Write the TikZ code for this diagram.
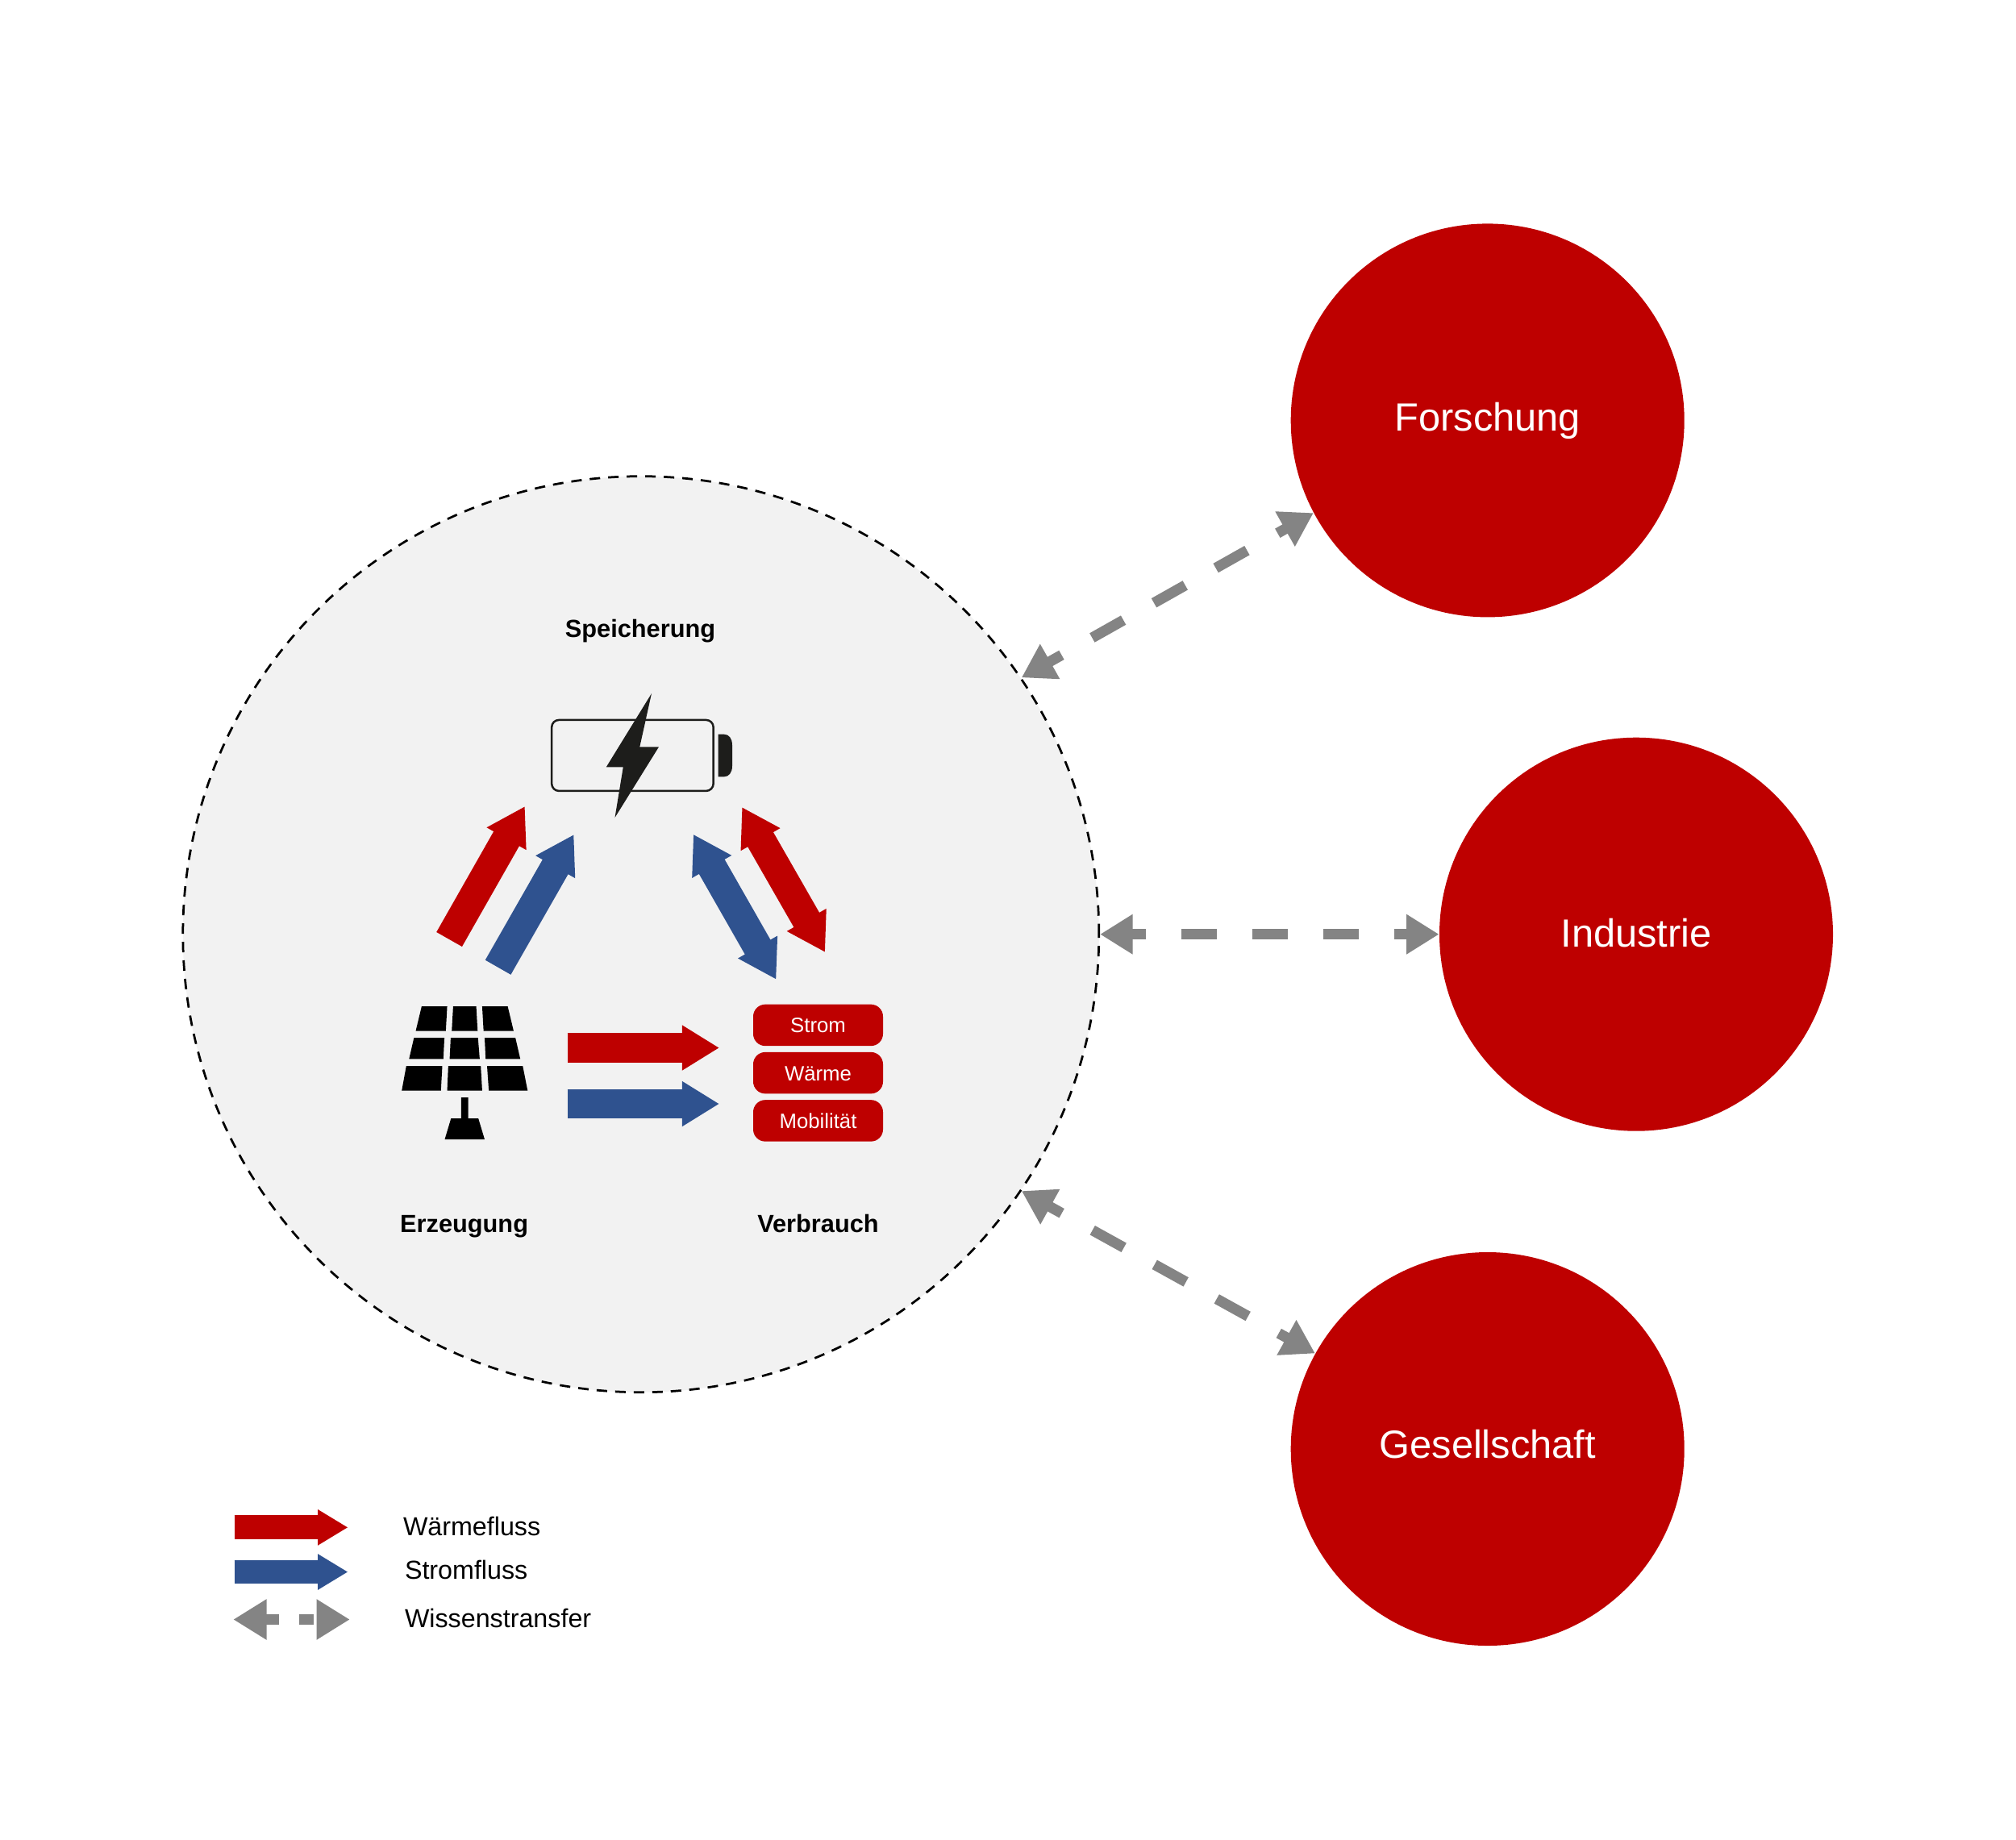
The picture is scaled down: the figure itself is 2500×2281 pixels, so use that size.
\documentclass[tikz,border=0pt]{standalone}
\usepackage{fontspec}
\setmainfont{Liberation Sans}
\usetikzlibrary{arrows.meta}
\definecolor{cred}{HTML}{BE0000}
\definecolor{cblue}{HTML}{2F528F}
\definecolor{cgray}{HTML}{848484}
\definecolor{cpale}{HTML}{F2F2F2}
\definecolor{cink}{HTML}{1D1D1B}
\tikzset{
  flowhead/.tip={Triangle[length=18.5pt,width=21.2pt]},
  flow/.style={line width=14.6pt,draw=#1,-{flowhead}},
  flowboth/.style={line width=14.6pt,draw=#1,{flowhead}-{flowhead}},
  legendflow/.style={line width=11.9pt,draw=#1,-{Triangle[length=15pt,width=16.8pt]}},
  know/.style={cgray,line width=5.2pt,{Triangle[length=16.2pt,width=18.8pt]}-{Triangle[length=16.2pt,width=18.8pt]},dash pattern=on 17.8pt off 17.4pt,dash phase=10.2pt},
  knowlegend/.style={cgray,line width=5.1pt,{Triangle[length=16.5pt,width=19pt]}-{Triangle[length=16.5pt,width=19pt]},dash pattern=on 7.2pt off 10.2pt on 7.2pt off 100pt},
  partner/.style={circle,fill=cred,text=white,minimum size=195.2pt,inner sep=0pt,font=\fontsize{19.5pt}{23pt}\selectfont,text depth=0pt},
  usebox/.style={rounded corners=6pt,fill=cred,text=white,minimum width=64.4pt,minimum height=20.6pt,inner sep=0pt,font=\fontsize{10.3pt}{12pt}\selectfont,text height=7.6pt,text depth=0pt},
  heading/.style={anchor=base,font=\bfseries\fontsize{12.3pt}{14pt}\selectfont,inner sep=0pt},
  legendtext/.style={anchor=base west,font=\fontsize{12.9pt}{15pt}\selectfont,inner sep=0pt},
  panel/.style={fill=black,draw=none}
}
\begin{document}
\begin{tikzpicture}[x=0.4pt,y=-0.4pt]
\path[use as bounding box,fill=white] (0,0) rectangle (2500,2281);

% system circle
\node[circle,draw=black,fill=cpale,line width=1.1pt,dash pattern=on 5.2pt off 4pt,minimum size=454.4pt,inner sep=0pt] (system) at (794.8,1158.7) {};

% partner circles
\node[partner,text height=10.4pt] (forsch) at (1844.7,521.4) {Forschung};
\node[partner,text height=12.8pt] (indust) at (2029,1158.7) {Industrie};
\node[partner,text height=9.1pt] (gesell) at (1844.7,1797) {Gesellschaft};

% knowledge transfer
\draw[know] (system.34.1) -- (forsch.208.5);
\draw[know] (system.0) -- (indust.180);
\draw[know] (system.326.1) -- (gesell.151.6);

% headings
\node[heading] (hspeicher) at (794,790.5) {Speicherung};
\node[heading] (herzeug) at (575.6,1528) {Erzeugung};
\node[heading] (hverbr) at (1014.5,1528) {Verbrauch};

% battery
\node[draw=cink,line width=1pt,rounded corners=3.6pt,minimum width=80.2pt,minimum height=35.2pt,inner sep=0pt] (battery) at (784.4,936.9) {};
\fill[cink] (890.6,910.7) -- (898,910.7) .. controls (904,910.7) and (908,916) .. (908,924) -- (908,950) .. controls (908,958) and (904,963.3) .. (898,963.3) -- (890.6,963.3) -- cycle;
\fill[cink] (808,860) -- (793.3,926.3) -- (817,926.3) -- (762.5,1014) -- (772.8,951.3) -- (751.8,951.3) -- cycle;

% solar panel
\begin{scope}[shift={(470,1220)},xscale=0.43365,yscale=0.33333]
\fill[panel] (122,84) -- (195,84) -- (191,176) -- (105,176) -- cycle;
\fill[panel] (212,84) -- (278,84) -- (282,176) -- (208,176) -- cycle;
\fill[panel] (295,84) -- (368,84) -- (385,176) -- (299,176) -- cycle;
\fill[panel] (100,201) -- (187,201) -- (184,280) -- (86,280) -- cycle;
\fill[panel] (205,201) -- (283,201) -- (288,280) -- (202,280) -- cycle;
\fill[panel] (302,201) -- (390,201) -- (404,280) -- (305,280) -- cycle;
\fill[panel] (78,306) -- (181,306) -- (177,398) -- (65,398) -- cycle;
\fill[panel] (198,306) -- (291,306) -- (295,398) -- (195,398) -- cycle;
\fill[panel] (309,306) -- (411,306) -- (425,398) -- (314,398) -- cycle;
\fill[panel] (235,423) -- (255,423) -- (255,501) -- (284,501) -- (302,579) -- (188,579) -- (206,501) -- (235,501) -- cycle;
\end{scope}

% use boxes
\node[usebox] (strom) at (1014.5,1271.4) {Strom};
\node[usebox] (waerme) at (1014.5,1330.6) {Wärme};
\node[usebox] (mobil) at (1014.5,1389.9) {Mobilität};

% flow ends
\coordinate (ra) at (557.1,1165);
\coordinate (rb) at (650.9,1000);
\coordinate (ba) at (617.6,1199.7);
\coordinate (bb) at (711.6,1035);
\coordinate (bc) at (859.8,1034.7);
\coordinate (bd) at (962.5,1214.7);
\coordinate (rc) at (920.1,1001);
\coordinate (rd) at (1023.2,1181);
\coordinate (re) at (703.5,1299.5);
\coordinate (rf) at (892,1299.5);
\coordinate (bf) at (703.5,1369);
\coordinate (bg) at (892,1369);
\draw[flow=cred] (ra) -- (rb);
\draw[flow=cblue] (ba) -- (bb);
\draw[flowboth=cblue] (bc) -- (bd);
\draw[flowboth=cred] (rc) -- (rd);
\draw[flow=cred] (re) -- (rf);
\draw[flow=cblue] (bf) -- (bg);

% legend
\coordinate (la) at (290.5,1894.3);
\coordinate (lb) at (431.5,1894.3);
\coordinate (lc) at (290.5,1949.5);
\coordinate (ld) at (431.5,1949.5);
\coordinate (le) at (289.3,2008.5);
\coordinate (lf) at (433.8,2008.5);
\draw[legendflow=cred] (la) -- (lb);
\draw[legendflow=cblue] (lc) -- (ld);
\draw[knowlegend] (le) -- (lf);
\node[legendtext] (t1) at (499.5,1904.5) {Wärmefluss};
\node[legendtext] (t2) at (501.5,1958.5) {Stromfluss};
\node[legendtext] (t3) at (501.5,2018.5) {Wissenstransfer};
\end{tikzpicture}
\end{document}
